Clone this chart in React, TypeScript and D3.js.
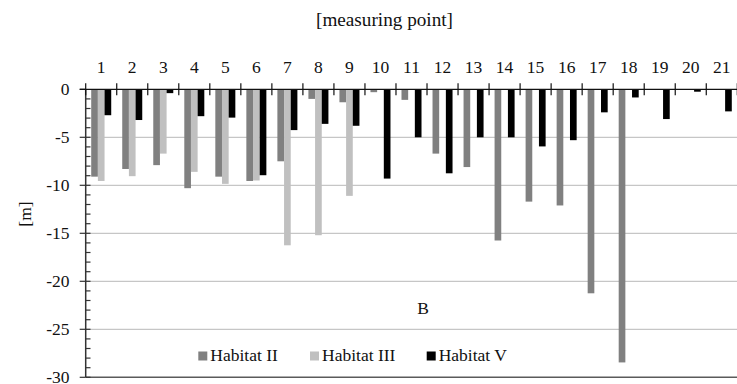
import React from "react";
import * as d3 from "d3";

// Measuring points 1..21
const points = d3.range(1, 22).map(String);
const series = ["Habitat II", "Habitat III", "Habitat V"];
const colors = ["#808080", "#c0c0c0", "#000000"];

// Depth values [m] per measuring point
const habitatII = [-9.1, -8.3, -7.9, -10.3, -9.1, -9.55, -7.5, -1.0, -1.35, -0.3, -1.1, -6.7, -8.1, -15.75, -11.7, -12.1, -21.25, -28.45, 0, 0, 0];
const habitatIII = [-9.55, -9.05, -6.7, -8.6, -9.85, -9.5, -16.25, -15.2, -11.1, 0, 0, 0, 0, 0, 0, 0, 0, 0, 0, 0, 0];
const habitatV = [-2.7, -3.2, -0.4, -2.8, -2.95, -8.95, -4.25, -3.6, -3.8, -9.3, -5.0, -8.75, -5.0, -5.0, -5.95, -5.3, -2.4, -0.85, -3.1, -0.25, -2.3];
const yTicks = [0, -5, -10, -15, -20, -25, -30];

const W = 737;
const H = 384;
const left = 85.7;
const right = 737.3;
const top = 89.3;
const bottom = 377.3;
const FONT = "Liberation Serif, DejaVu Serif, Times New Roman, serif";
const FS = 17.5;

export default function App() {
  const data = [habitatII, habitatIII, habitatV];
  const x0 = d3.scaleBand<string>().domain(points).range([left, right]).paddingInner(0.355).paddingOuter(0.1775);
  const x1 = d3.scaleBand<string>().domain(series).range([0, x0.bandwidth()]);
  const y = d3.scaleLinear().domain([-30, 0]).range([bottom, top]);
  const step = x0.step();
  const minor = d3.range(-30, 0, 1);

  const legendItems = [
    { x: 198.3, label: series[0], color: colors[0] },
    { x: 310, label: series[1], color: colors[1] },
    { x: 426.7, label: series[2], color: colors[2] },
  ];

  return (
    <div style={{ position: "fixed", left: 0, top: 0 }}>
      <svg width={W} height={H} style={{ display: "block", background: "#fff", fontFamily: FONT }}>
        {/* gridlines */}
        {yTicks.filter((t) => t !== 0 && t !== -30).map((t) => (
          <line key={"g" + t} x1={left} x2={right} y1={y(t)} y2={y(t)} stroke="#c6c6c6" strokeWidth={1.2} />
        ))}
        {/* bars */}
        {series.map((s, si) =>
          points.map((p, pi) => {
            const v = data[si][pi];
            if (v === 0) return null;
            return (
              <rect
                key={s + p}
                x={(x0(p) as number) + (x1(s) as number)}
                y={y(0)}
                width={x1.bandwidth()}
                height={y(v) - y(0)}
                fill={colors[si]}
              />
            );
          })
        )}
        {/* bottom line */}
        <line x1={left} x2={right} y1={bottom} y2={bottom} stroke="#5a5a5a" strokeWidth={1.5} />
        {/* left axis */}
        <line x1={left} x2={left} y1={top} y2={bottom} stroke="#333" strokeWidth={1.5} />
        {minor.map((t) => (
          <line key={"m" + t} x1={left} x2={left + 4.8} y1={y(t)} y2={y(t)} stroke="#333" strokeWidth={1.2} />
        ))}
        {yTicks.map((t) => (
          <g key={"yt" + t}>
            <line x1={left - 6} x2={left} y1={y(t)} y2={y(t)} stroke="#333" strokeWidth={1.2} />
            <text x={69.5} y={y(t) + 5.5} textAnchor="end" fontSize={FS} fill="#111">
              {t}
            </text>
          </g>
        ))}
        {/* top axis at zero */}
        <line x1={left - 6} x2={right} y1={top} y2={top} stroke="#111" strokeWidth={1.3} />
        {d3.range(0, points.length + 1).map((i) => (
          <line key={"xt" + i} x1={left + i * step} x2={left + i * step} y1={top - 6} y2={top + 6} stroke="#111" strokeWidth={1.2} />
        ))}
        {points.map((p) => (
          <text key={"xl" + p} x={(x0(p) as number) + x0.bandwidth() / 2} y={73.3} textAnchor="middle" fontSize={FS} fill="#111">
            {p}
          </text>
        ))}
        {/* titles */}
        <text x={316} y={26} fontSize={18.5} textLength={137} lengthAdjust="spacingAndGlyphs" fill="#111">
          [measuring point]
        </text>
        <text transform={`translate(31,214) rotate(-90)`} textAnchor="middle" fontSize={FS} fill="#111">
          [m]
        </text>
        <text x={423} y={314} textAnchor="middle" fontSize={FS} fill="#111">
          B
        </text>
        {/* legend */}
        {legendItems.map((l) => (
          <g key={l.label}>
            <rect x={l.x} y={351.5} width={9} height={9} fill={l.color} />
            <text x={l.x + 12} y={361} fontSize={FS} fill="#111">
              {l.label}
            </text>
          </g>
        ))}
      </svg>
    </div>
  );
}
